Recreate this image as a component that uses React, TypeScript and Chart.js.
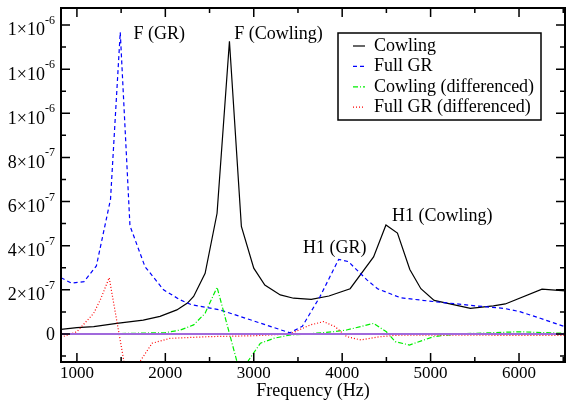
import React, { useEffect, useRef } from "react";
import { Chart, registerables } from "chart.js";

Chart.register(...registerables);

// ---------- axis ranges ----------
const X_MIN = 820;
const X_MAX = 6520;
const Y_MIN = -1.27e-7;
const Y_MAX = 1.477e-6;
const SCALE = 1e-7; // amplitudes below are in units of 1e-7

// ---------- data ----------
const cowlingFreq = [820, 1000, 1190, 1450, 1750, 1940, 2130, 2250, 2320, 2450, 2585, 2725, 2860, 3000, 3125, 3300, 3450, 3650, 3850, 4090, 4355, 4495, 4625, 4765, 4890, 5040, 5450, 5710, 5845, 6260, 6520];
const cowlingAmp = [0.21, 0.29, 0.33, 0.48, 0.63, 0.8, 1.09, 1.4, 1.7, 2.75, 5.47, 13.26, 4.87, 2.98, 2.22, 1.77, 1.62, 1.57, 1.72, 2.05, 3.49, 4.94, 4.57, 2.92, 2.05, 1.52, 1.16, 1.27, 1.36, 2.03, 1.95];

const fullGrFreq = [820, 940, 1080, 1220, 1380, 1490, 1600, 1770, 1980, 2170, 2300, 2620, 3410, 3550, 3750, 3960, 4070, 4280, 4400, 4660, 5030, 5520, 5830, 6010, 6240, 6520];
const fullGrAmp = [2.55, 2.3, 2.37, 3.08, 6.1, 13.67, 4.9, 3.05, 2.0, 1.54, 1.32, 1.09, 0.05, 0.35, 1.7, 3.38, 3.28, 2.45, 2.05, 1.64, 1.47, 1.27, 1.16, 1.01, 0.71, 0.33];

const cowlingDiffFreq = [820, 1500, 2000, 2170, 2320, 2450, 2585, 2860, 2940, 3075, 3225, 3400, 3600, 3900, 4050, 4355, 4500, 4600, 4760, 5035, 5300, 6000, 6520];
const cowlingDiffAmp = [0, 0.02, 0.06, 0.18, 0.41, 0.94, 2.12, -2.0, -1.2, -0.42, -0.2, -0.05, 0, 0.1, 0.18, 0.48, 0.1, -0.35, -0.5, -0.12, 0, 0.1, 0.03];

const fullGrDiffFreq = [820, 1000, 1190, 1264, 1365, 1600, 1720, 1850, 2050, 2500, 3000, 3410, 3640, 3790, 3920, 4050, 4210, 4400, 4600, 5000, 6520];
const fullGrDiffAmp = [-0.15, 0.1, 0.94, 1.54, 2.55, -2.8, -1.2, -0.42, -0.2, -0.12, -0.08, 0, 0.41, 0.56, 0.33, -0.12, -0.27, -0.14, -0.06, -0.05, -0.07];

const zeroFreq = [X_MIN, X_MAX];
const zeroAmp = [0, 0];

const seriesLabels = ["Cowling", "Full GR", "Cowling (differenced)", "Full GR (differenced)"];

// ---------- ticks ----------
const xTickValues = [1000, 2000, 3000, 4000, 5000, 6000];
const xTickLabels = ["1000", "2000", "3000", "4000", "5000", "6000"];
const xMinorTicks = [1500, 2500, 3500, 4500, 5500, 6500];
const yTickValues = [0, 2e-7, 4e-7, 6e-7, 8e-7, 1e-6, 1.2e-6, 1.4e-6];
const yTickLabels = ["0", "2×10^-7", "4×10^-7", "6×10^-7", "8×10^-7", "1×10^-6", "1×10^-6", "1×10^-6"];
const yMinorTicks = [-1e-7, 1e-7, 3e-7, 5e-7, 7e-7, 9e-7, 1.1e-6, 1.3e-6];

const annotations = [
  { text: "F (GR)", x: 1640, y: 1.36e-6 },
  { text: "F (Cowling)", x: 2780, y: 1.36e-6 },
  { text: "H1 (GR)", x: 3557, y: 3.90e-7 },
  { text: "H1 (Cowling)", x: 4563, y: 5.34e-7 },
];

const SERIF = '"Liberation Serif", "Times New Roman", serif';

function pts(f: number[], a: number[]) {
  return f.map((x, i) => ({ x, y: a[i] * SCALE }));
}

const decorPlugin = {
  id: "decor",
  afterDraw(chart: any) {
    const ctx = chart.ctx as CanvasRenderingContext2D;
    const { left, right, top, bottom } = chart.chartArea;
    const xs = chart.scales.x;
    const ys = chart.scales.y;
    ctx.save();
    ctx.strokeStyle = "#000";
    ctx.fillStyle = "#000";

    // ticks (inward, all four sides)
    ctx.lineWidth = 1.5;
    const tick = (v: number, len: number, axis: "x" | "y") => {
      ctx.beginPath();
      if (axis === "x") {
        const p = xs.getPixelForValue(v);
        if (p < left || p > right) return;
        ctx.moveTo(p, bottom); ctx.lineTo(p, bottom - len);
        ctx.moveTo(p, top); ctx.lineTo(p, top + len);
      } else {
        const p = ys.getPixelForValue(v);
        if (p < top || p > bottom) return;
        ctx.moveTo(left, p); ctx.lineTo(left + len, p);
        ctx.moveTo(right, p); ctx.lineTo(right - len, p);
      }
      ctx.stroke();
    };
    xTickValues.forEach((v) => tick(v, 9, "x"));
    xMinorTicks.forEach((v) => tick(v, 5, "x"));
    yTickValues.forEach((v) => tick(v, 9, "y"));
    yMinorTicks.forEach((v) => tick(v, 5, "y"));

    // frame
    ctx.lineWidth = 2;
    ctx.strokeRect(left, top, right - left, bottom - top);

    // y tick labels with superscript exponent
    ctx.textAlign = "right";
    ctx.textBaseline = "alphabetic";
    yTickValues.forEach((v, i) => {
      const p = ys.getPixelForValue(v);
      const [base, exp] = yTickLabels[i].split("^");
      const xr = left - 6;
      if (exp) {
        ctx.font = `12px ${SERIF}`;
        const ew = ctx.measureText(exp).width;
        ctx.fillText(exp, xr, p - 1);
        ctx.font = `18px ${SERIF}`;
        ctx.fillText(base, xr - ew, p + 10.5);
      } else {
        ctx.font = `18px ${SERIF}`;
        ctx.fillText(base, xr, p + 6);
      }
    });

    // annotations
    ctx.font = `18px ${SERIF}`;
    ctx.textAlign = "left";
    ctx.textBaseline = "middle";
    annotations.forEach((a) => {
      ctx.fillText(a.text, xs.getPixelForValue(a.x), ys.getPixelForValue(a.y));
    });

    // legend
    const lx = 338, ly = 33, lw = 203, lh = 87;
    ctx.fillStyle = "#fff";
    ctx.fillRect(lx, ly, lw, lh);
    ctx.fillStyle = "#000";
    ctx.lineWidth = 1.5;
    ctx.strokeRect(lx, ly, lw, lh);
    const ds = chart.data.datasets.filter((d: any) => d.inLegend);
    ds.forEach((d: any, i: number) => {
      const yy = 46 + i * 20.4;
      ctx.save();
      ctx.strokeStyle = d.borderColor;
      ctx.lineWidth = d.borderWidth;
      ctx.setLineDash(d.borderDash || []);
      ctx.beginPath();
      ctx.moveTo(353, yy);
      ctx.lineTo(365, yy);
      ctx.stroke();
      ctx.restore();
      ctx.font = `18px ${SERIF}`;
      ctx.textAlign = "left";
      ctx.textBaseline = "middle";
      ctx.fillText(d.label, 374, yy);
    });
    ctx.restore();
  },
};

export default function App() {
  const ref = useRef<HTMLCanvasElement | null>(null);
  useEffect(() => {
    if (!ref.current) return;
    const chart = new Chart(ref.current, {
      type: "line",
      data: {
        datasets: [
          {
            label: "zero",
            data: pts(zeroFreq, zeroAmp),
            borderColor: "rgb(160,105,220)",
            borderWidth: 2,
            pointRadius: 0,
            order: 0,
          } as any,
          {
            label: seriesLabels[0],
            data: pts(cowlingFreq, cowlingAmp),
            borderColor: "#000000",
            borderWidth: 1.2,
            pointRadius: 0,
            inLegend: true,
            order: 4,
          },
          {
            label: seriesLabels[1],
            data: pts(fullGrFreq, fullGrAmp),
            borderColor: "#0000ff",
            borderWidth: 1.2,
            borderDash: [4, 3],
            pointRadius: 0,
            inLegend: true,
            order: 3,
          },
          {
            label: seriesLabels[2],
            data: pts(cowlingDiffFreq, cowlingDiffAmp),
            borderColor: "#00ee00",
            borderWidth: 1.2,
            borderDash: [5, 2, 1, 2],
            pointRadius: 0,
            inLegend: true,
            order: 2,
          },
          {
            label: seriesLabels[3],
            data: pts(fullGrDiffFreq, fullGrDiffAmp),
            borderColor: "#ff0000",
            borderWidth: 1.2,
            borderDash: [1, 2],
            pointRadius: 0,
            inLegend: true,
            order: 1,
          },
        ],
      },
      options: {
        animation: false,
        responsive: false,
        devicePixelRatio: 1,
        layout: { padding: { left: 0, right: 1, top: 8, bottom: 0 } },
        plugins: { legend: { display: false }, tooltip: { enabled: false } },
        elements: { line: { tension: 0 } },
        scales: {
          x: {
            type: "linear",
            min: X_MIN,
            max: X_MAX,
            grid: { display: false, drawTicks: false },
            border: { display: false },
            afterBuildTicks: (s: any) => {
              s.ticks = xTickValues.map((v) => ({ value: v }));
            },
            afterFit: (s: any) => {
              s.height = 40;
            },
            ticks: {
              padding: 1,
              color: "#000",
              font: { family: SERIF, size: 17 },
              maxRotation: 0,
              callback: (v: any) => {
                const i = xTickValues.indexOf(Number(v));
                return i >= 0 ? xTickLabels[i] : "";
              },
            },
            title: {
              display: true,
              text: "Frequency (Hz)",
              color: "#000",
              font: { family: SERIF, size: 18 },
              padding: { top: 0, bottom: 0 },
            },
          },
          y: {
            type: "linear",
            min: Y_MIN,
            max: Y_MAX,
            grid: { display: false, drawTicks: false },
            border: { display: false },
            afterBuildTicks: (s: any) => {
              s.ticks = yTickValues.map((v) => ({ value: v }));
            },
            afterFit: (s: any) => {
              s.width = 61;
            },
            ticks: { display: false },
          },
        },
      },
      plugins: [decorPlugin],
    } as any);
    return () => chart.destroy();
  }, []);
  return (
    <div style={{ position: "fixed", left: 0, top: 0, width: 566, height: 402, background: "#fff" }}>
      <canvas ref={ref} width={566} height={402} style={{ display: "block" }} />
    </div>
  );
}
